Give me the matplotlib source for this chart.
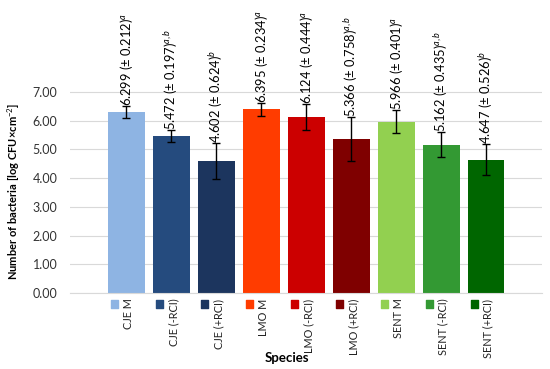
import numpy as np
import matplotlib
matplotlib.use("Agg")
import matplotlib.pyplot as plt
import matplotlib.transforms as mtransforms

plt.rcParams['font.family'] = ['Lato', 'DejaVu Sans']
plt.rcParams['mathtext.fontset'] = 'custom'
plt.rcParams['mathtext.rm'] = 'Lato'
plt.rcParams['mathtext.it'] = 'Lato:italic'

species = ["CJE M", "CJE (-RCI)", "CJE (+RCI)", "LMO M", "LMO (-RCI)", "LMO (+RCI)",
           "SENT M", "SENT (-RCI)", "SENT (+RCI)"]
means = [6.299, 5.472, 4.602, 6.395, 6.124, 5.366, 5.966, 5.162, 4.647]
sds = [0.212, 0.197, 0.624, 0.234, 0.444, 0.758, 0.401, 0.435, 0.526]
letters = ["a", "a,b", "b", "a", "a", "a,b", "a", "a,b", "b"]
italic_sd = [True, True, True, True, True, False, True, False, True]
colors = ["#8EB4E3", "#254B7E", "#1C355E", "#FF3C00", "#CC0000", "#7F0000",
          "#92D050", "#339933", "#006600"]

fig = plt.figure(figsize=(5.5, 3.69), dpi=100)
ax = fig.add_axes([0.127, 0.206, 0.858, 0.6225])

x = np.arange(len(species))
ax.bar(x, means, width=0.81, color=colors, zorder=2)
ax.errorbar(x, means, yerr=sds, fmt='none', ecolor='black', elinewidth=1,
            capsize=3, capthick=1, zorder=3)

for xi, m, s, l, it in zip(x, means, sds, letters, italic_sd):
    sd_txt = r"$\mathit{%.3f}$" % s if it else "%.3f" % s
    lbl = "%.3f (± %s)$^{%s}$" % (m, sd_txt, l)
    ax.text(xi, m + s, lbl, rotation=90, ha='center', va='bottom',
            fontsize=9.3, clip_on=False)

ax.set_xlim(-1.256, 9.233)
ax.set_ylim(0, 8)
ax.set_yticks(np.arange(0, 8, 1))
ax.set_yticklabels(["%.2f" % v for v in np.arange(0, 8, 1)], fontsize=9, color='#333333')
ax.yaxis.grid(True, color='#D9D9D9', linewidth=0.8, zorder=0)
ax.set_axisbelow(True)
for sp in ['top', 'right', 'left']:
    ax.spines[sp].set_visible(False)
ax.spines['bottom'].set_color('#D9D9D9')
ax.tick_params(axis='y', length=0, pad=9)

ax.set_xticks(x)
ax.set_xticklabels(species, rotation=90, fontsize=7.8, va='top', color='#222222')
ax.tick_params(axis='x', length=0, pad=4)
shift = mtransforms.ScaledTranslation(2 / 100, 0, fig.dpi_scale_trans)
for t in ax.get_xticklabels():
    t.set_transform(t.get_transform() + shift)

# legend keys under each category
ax.scatter(x - 0.27, [-0.048] * len(x), marker='s', s=26, c=colors,
           transform=ax.get_xaxis_transform(), clip_on=False)

ax.set_ylabel("Number of bacteria [log CFU×cm$^{-2}$]", fontsize=8, fontweight='bold')
ax.yaxis.set_label_coords(-0.102, 0.442)
fig.text(287 / 550, 1 - 358 / 369, "Species", fontsize=9.5, fontweight='bold',
         ha='center', va='center')

fig.savefig("out.png", dpi=100)
